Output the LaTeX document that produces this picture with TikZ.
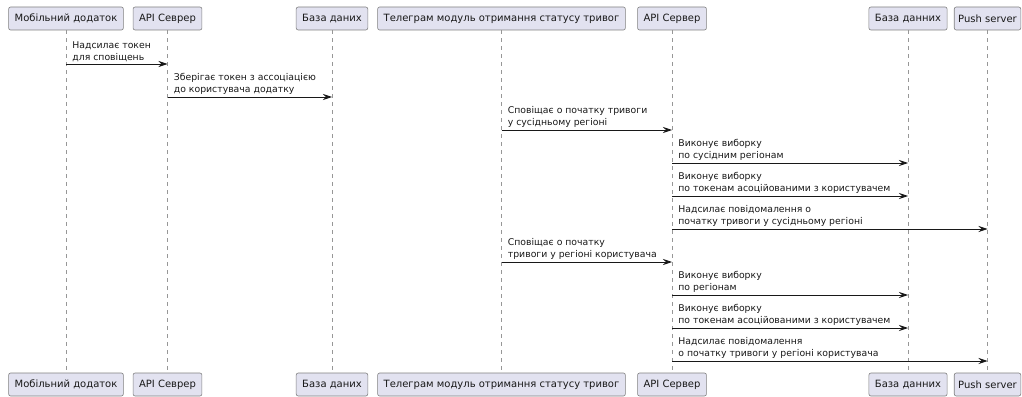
\documentclass[tikz,border=0pt]{standalone}
\usepackage{fontspec}
\setmainfont{DejaVu Sans}
\usetikzlibrary{arrows.meta}
\definecolor{boxfill}{HTML}{E2E2F0}
\definecolor{umlline}{HTML}{181818}
\tikzset{
    actor/.style = {rectangle, rounded corners=2pt, draw=umlline!55, line width=0.6pt, fill=boxfill, minimum height=23pt, inner xsep=6pt, inner ysep=0pt, font=\fontsize{10}{12}\selectfont, text=umlline},
    life/.style = {draw=umlline!45, line width=0.5pt, dash pattern=on 4pt off 4pt},
    edgen/.style = {-{Stealth[length=9pt,width=6pt,inset=3pt]}, line width=0.8pt, draw=umlline},
    msg/.style = {pos=0, anchor=south west, align=left, inner sep=0pt, xshift=6pt, yshift=2pt, font=\fontsize{9.3}{12}\selectfont, text=umlline}
}
\begin{document}
\begin{tikzpicture}[x=1pt,y=-1pt]
\useasboundingbox (0,0) rectangle (1022,396);
% participants, top
\node[actor] at (66,18.5) (tmob) {Мобільний додаток};
\node[actor] at (167.5,18.5) (tapia) {API Севрер};
\node[actor] at (332,18.5) (tdba) {База даних};
\node[actor] at (501.5,18.5) (ttel) {Телеграм модуль отримання статусу тривог};
\node[actor] at (672,18.5) (tapib) {API Сервер};
\node[actor] at (908,18.5) (tdbb) {База данних};
\node[actor, inner xsep=4pt] at (987.5,18.5) (tpush) {Push server};
% participants, bottom
\node[actor] at (66,384.5) (bmob) {Мобільний додаток};
\node[actor] at (167.5,384.5) (bapia) {API Севрер};
\node[actor] at (332,384.5) (bdba) {База даних};
\node[actor] at (501.5,384.5) (btel) {Телеграм модуль отримання статусу тривог};
\node[actor] at (672,384.5) (bapib) {API Сервер};
\node[actor] at (908,384.5) (bdbb) {База данних};
\node[actor, inner xsep=4pt] at (987.5,384.5) (bpush) {Push server};
% lifelines
\draw[life] (tmob) -- (bmob);
\draw[life] (tapia) -- (bapia);
\draw[life] (tdba) -- (bdba);
\draw[life] (ttel) -- (btel);
\draw[life] (tapib) -- (bapib);
\draw[life] (tdbb) -- (bdbb);
\draw[life] (tpush) -- (bpush);
% messages
\draw[edgen] (tmob |- 0,64) -- node[msg] {Надсилає токен\\для сповіщень} (tapia |- 0,64);
\draw[edgen] (tapia |- 0,97) -- node[msg] {Зберігає токен з ассоціацією\\до користувача додатку} (tdba |- 0,97);
\draw[edgen] (ttel |- 0,130) -- node[msg] {Сповіщає о початку тривоги\\у сусідньому регіоні} (tapib |- 0,130);
\draw[edgen] (tapib |- 0,163) -- node[msg] {Виконує виборку\\по сусідним регіонам} (tdbb |- 0,163);
\draw[edgen] (tapib |- 0,196) -- node[msg] {Виконує виборку\\по токенам асоційованими з користувачем} (tdbb |- 0,196);
\draw[edgen] (tapib |- 0,229) -- node[msg] {Надсилає повідомалення о\\початку тривоги у сусідньому регіоні} (tpush |- 0,229);
\draw[edgen] (ttel |- 0,262) -- node[msg] {Сповіщає о початку\\тривоги у регіоні користувача} (tapib |- 0,262);
\draw[edgen] (tapib |- 0,295) -- node[msg] {Виконує виборку\\по регіонам} (tdbb |- 0,295);
\draw[edgen] (tapib |- 0,328) -- node[msg] {Виконує виборку\\по токенам асоційованими з користувачем} (tdbb |- 0,328);
\draw[edgen] (tapib |- 0,361) -- node[msg] {Надсилає повідомалення\\о початку тривоги у регіоні користувача} (tpush |- 0,361);
\end{tikzpicture}
\end{document}
